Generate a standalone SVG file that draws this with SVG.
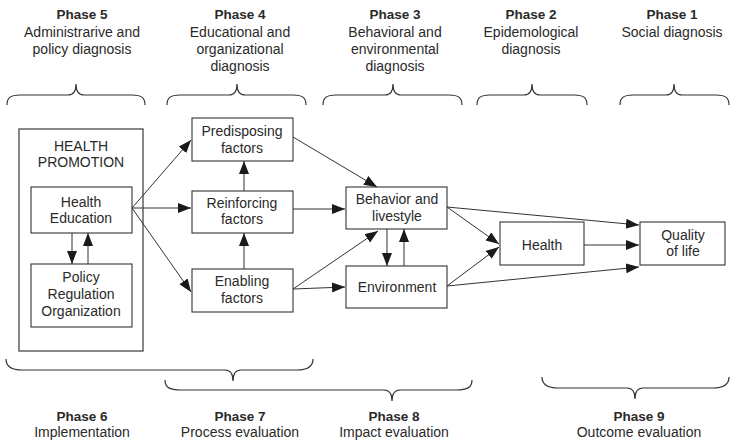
<svg xmlns="http://www.w3.org/2000/svg" width="740" height="448" viewBox="0 0 740 448">
<defs>
<style>
text{font-family:"Liberation Sans",Arial,Helvetica,sans-serif;fill:#2a2a2a;text-anchor:middle}
.ph{font-size:13.5px;font-weight:bold}
.sub{font-size:14px}
.bx{font-size:14px}
.box{fill:#fff;stroke:#333;stroke-width:1.1}
.outer{fill:#fff;stroke:#555;stroke-width:1.4}
.brace{fill:none;stroke:#333;stroke-width:1.2}
.c{fill:none;stroke:#333;stroke-width:1;marker-end:url(#ah)}
</style>
<marker id="ah" markerUnits="userSpaceOnUse" markerWidth="14" markerHeight="11" refX="13" refY="5" orient="auto">
<path d="M0,0 L13,5 L0,10 z" fill="#1a1a1a"/>
</marker>
</defs>
<rect width="740" height="448" fill="#fff"/>

<g id="phase-labels-top">
<text class="ph" x="82" y="19">Phase 5</text>
<text class="sub" x="82" y="37">Administrarive and</text>
<text class="sub" x="82" y="54">policy diagnosis</text>
<text class="ph" x="240" y="19">Phase 4</text>
<text class="sub" x="240" y="37">Educational and</text>
<text class="sub" x="240" y="54">organizational</text>
<text class="sub" x="240" y="71">diagnosis</text>
<text class="ph" x="395" y="19">Phase 3</text>
<text class="sub" x="395" y="37">Behavioral and</text>
<text class="sub" x="395" y="54">environmental</text>
<text class="sub" x="395" y="71">diagnosis</text>
<text class="ph" x="531" y="19">Phase 2</text>
<text class="sub" x="531" y="37">Epidemological</text>
<text class="sub" x="531" y="54">diagnosis</text>
<text class="ph" x="672" y="19">Phase 1</text>
<text class="sub" x="672" y="37">Social diagnosis</text>
</g>

<g id="braces">
<path class="brace" d="M7,105 C7,98 10,95 20,95 L68,95 C73,95 76,92 76,84 C76,92 79,95 84,95 L132,95 C142,95 145,98 145,105"/>
<path class="brace" d="M167,105 C167,98 170,95 180,95 L229,95 C234,95 237,92 237,84 C237,92 240,95 245,95 L293,95 C303,95 306,98 306,105"/>
<path class="brace" d="M323,105 C323,98 326,95 336,95 L385,95 C390,95 393,92 393,84 C393,92 396,95 401,95 L449,95 C459,95 462,98 462,105"/>
<path class="brace" d="M477,105 C477,98 480,95 490,95 L524,95 C529,95 532,92 532,84 C532,92 535,95 540,95 L574,95 C584,95 587,98 587,105"/>
<path class="brace" d="M620,105 C620,98 623,95 633,95 L666,95 C671,95 674,92 674,84 C674,92 677,95 682,95 L716,95 C726,95 729,98 729,105"/>
<path class="brace" d="M6,359 C6,366 10,370 22,370 L225,370 C230,370 233,373 233,381 C233,373 236,370 241,370 L297,370 C309,370 313,366 313,359"/>
<path class="brace" d="M165,380 C165,387 169,390 181,390 L384,390 C389,390 392,393 392,401 C392,393 395,390 400,390 L456,390 C468,390 472,387 472,380"/>
<path class="brace" d="M542,377 C542,384 546,388 558,388 L627,388 C632,388 635,391 635,399 C635,391 638,388 643,388 L713,388 C725,388 729,384 729,377"/>
</g>

<g id="health-promotion">
<rect class="outer" x="19" y="129" width="124" height="222"/>
<text class="bx" x="81" y="151">HEALTH</text>
<text class="bx" x="81" y="167">PROMOTION</text>
</g>
<g id="health-education">
<rect class="box" x="31" y="187" width="101" height="46"/>
<text class="bx" x="81" y="207">Health</text>
<text class="bx" x="81" y="223">Education</text>
</g>
<g id="policy">
<rect class="box" x="31" y="264" width="101" height="63"/>
<text class="bx" x="81" y="282">Policy</text>
<text class="bx" x="81" y="299">Regulation</text>
<text class="bx" x="81" y="316">Organization</text>
</g>
<g id="predisposing">
<rect class="box" x="192" y="118" width="101" height="43"/>
<text class="bx" x="242" y="136">Predisposing</text>
<text class="bx" x="242" y="153">factors</text>
</g>
<g id="reinforcing">
<rect class="box" x="192" y="191" width="101" height="42"/>
<text class="bx" x="242" y="208">Reinforcing</text>
<text class="bx" x="242" y="224">factors</text>
</g>
<g id="enabling">
<rect class="box" x="192" y="269" width="101" height="43"/>
<text class="bx" x="242" y="286">Enabling</text>
<text class="bx" x="242" y="303">factors</text>
</g>
<g id="behavior">
<rect class="box" x="346" y="187" width="101" height="42"/>
<text class="bx" x="397" y="204">Behavior and</text>
<text class="bx" x="397" y="221">livestyle</text>
</g>
<g id="environment">
<rect class="box" x="346" y="266" width="101" height="42"/>
<text class="bx" x="397" y="292">Environment</text>
</g>
<g id="health">
<rect class="box" x="500" y="222" width="84" height="43"/>
<text class="bx" x="542" y="250">Health</text>
</g>
<g id="quality">
<rect class="box" x="640" y="222" width="85" height="43"/>
<text class="bx" x="683" y="240">Quality</text>
<text class="bx" x="683" y="256">of life</text>
</g>

<g id="connectors">
<line class="c" x1="132" y1="208" x2="191" y2="140"/>
<line class="c" x1="132" y1="208" x2="191" y2="208"/>
<line class="c" x1="132" y1="208" x2="191" y2="292"/>
<line class="c" x1="72" y1="233" x2="72" y2="264"/>
<line class="c" x1="88" y1="264" x2="88" y2="233"/>
<line class="c" x1="244" y1="191" x2="244" y2="161"/>
<line class="c" x1="244" y1="269" x2="244" y2="233"/>
<line class="c" x1="293" y1="137" x2="377" y2="187"/>
<line class="c" x1="293" y1="209" x2="345" y2="209"/>
<line class="c" x1="293" y1="289" x2="378" y2="231"/>
<line class="c" x1="293" y1="289" x2="345" y2="287"/>
<line class="c" x1="387" y1="229" x2="387" y2="266"/>
<line class="c" x1="404" y1="266" x2="404" y2="229"/>
<line class="c" x1="447" y1="207" x2="499" y2="244"/>
<line class="c" x1="447" y1="286" x2="499" y2="247"/>
<line class="c" x1="447" y1="207" x2="639" y2="225"/>
<line class="c" x1="447" y1="286" x2="639" y2="267"/>
<line class="c" x1="584" y1="245" x2="639" y2="245"/>
</g>

<g id="phase-labels-bottom">
<text class="ph" x="82" y="421">Phase 6</text>
<text class="sub" x="82" y="437">Implementation</text>
<text class="ph" x="240" y="421">Phase 7</text>
<text class="sub" x="240" y="437">Process evaluation</text>
<text class="ph" x="394" y="421">Phase 8</text>
<text class="sub" x="394" y="437">Impact evaluation</text>
<text class="ph" x="639" y="421">Phase 9</text>
<text class="sub" x="639" y="437">Outcome evaluation</text>
</g>
</svg>
